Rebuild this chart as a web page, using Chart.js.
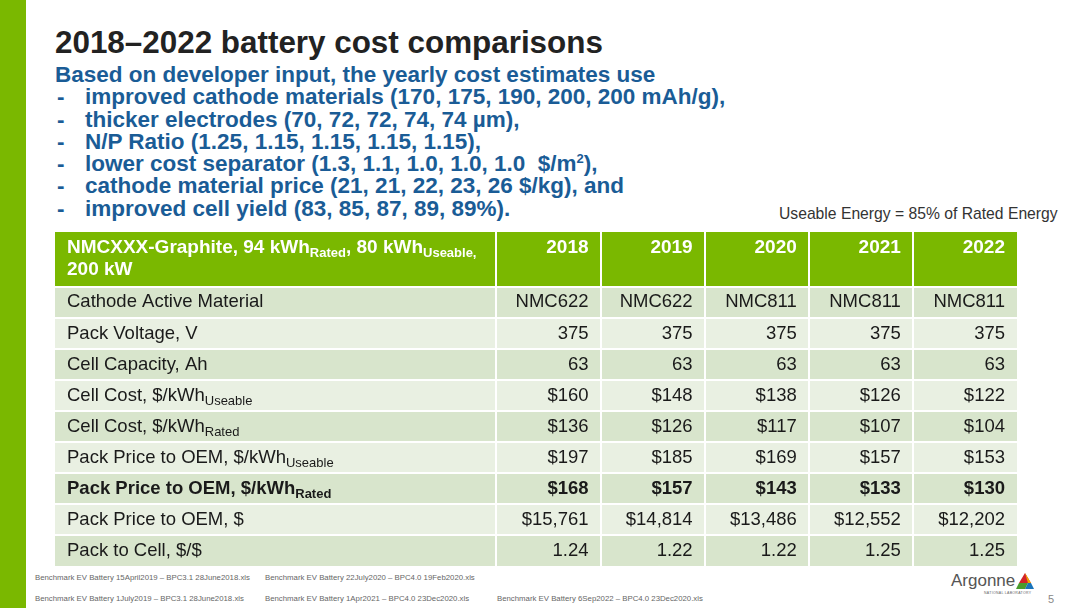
<!DOCTYPE html>
<html>
<head>
<meta charset="utf-8">
<script src="https://cdn.jsdelivr.net/npm/chart.js@4.4.1/dist/chart.umd.min.js"></script>
<style>
  body { margin: 0; width: 1080px; height: 608px; position: relative; background: #fff;
         font-family: "Liberation Sans", Arial, sans-serif; overflow: hidden; }
  #greenbar { position: absolute; left: 0; top: 0; width: 26px; height: 608px; background: #7ab800; }
  #title { position: absolute; left: 55px; top: 25px; font-size: 31.4px; font-weight: bold; color: #222; white-space: nowrap; }
  #intro { position: absolute; left: 55px; top: 64px; font-size: 22.5px; font-weight: bold; color: #1a5c96;
           line-height: 22.3px; white-space: nowrap; }
  #intro .b { position: relative; padding-left: 30px; }
  #intro .b:before { content: "-"; position: absolute; left: 2px; top: 0; }
  #useable { position: absolute; left: 779px; top: 205px; font-size: 15.7px; color: #333; white-space: nowrap; }
  #tableWrap { position: absolute; left: 55px; top: 232px; width: 962px; height: 334px; }
  .foot { position: absolute; font-size: 7.8px; color: #666; white-space: nowrap; }
  #logo { position: absolute; left: 951px; top: 571px; font-size: 17px; color: #555; white-space: nowrap; }
  #logo small { position: absolute; left: 33px; top: 20px; font-size: 3.5px; letter-spacing: 0.3px; color: #666; }
  #logo svg { position: absolute; left: 64px; top: 1px; }
  #page { position: absolute; left: 1048px; top: 593px; font-size: 11px; color: #888; }
</style>
</head>
<body>
<div id="greenbar"></div>
<div id="title">2018–2022 battery cost comparisons</div>
<div id="intro">
  <div>Based on developer input, the yearly cost estimates use</div>
  <div class="b">improved cathode materials (170, 175, 190, 200, 200 mAh/g),</div>
  <div class="b">thicker electrodes (70, 72, 72, 74, 74 µm),</div>
  <div class="b">N/P Ratio (1.25, 1.15, 1.15, 1.15, 1.15),</div>
  <div class="b">lower cost separator (1.3, 1.1, 1.0, 1.0, 1.0 &nbsp;$/m<sup style="font-size:13px;line-height:0">2</sup>),</div>
  <div class="b">cathode material price (21, 21, 22, 23, 26 $/kg), and</div>
  <div class="b">improved cell yield (83, 85, 87, 89, 89%).</div>
</div>
<div id="useable">Useable Energy = 85% of Rated Energy</div>
<div id="tableWrap"><canvas id="tableCanvas"></canvas></div>

<div class="foot" style="left:35px;top:573px">Benchmark EV Battery 15April2019 – BPC3.1 28June2018.xls</div>
<div class="foot" style="left:265px;top:573px">Benchmark EV Battery 22July2020 – BPC4.0 19Feb2020.xls</div>
<div class="foot" style="left:35px;top:594px">Benchmark EV Battery 1July2019 – BPC3.1 28June2018.xls</div>
<div class="foot" style="left:265px;top:594px">Benchmark EV Battery 1Apr2021 – BPC4.0 23Dec2020.xls</div>
<div class="foot" style="left:497px;top:594px">Benchmark EV Battery 6Sep2022 – BPC4.0 23Dec2020.xls</div>
<div id="logo">Argonne
  <svg width="20" height="18" viewBox="0 0 20 18">
    <polygon points="10,1 4,11 16,11" fill="#d2232a"/>
    <polygon points="4,11 1,17 10,17 13,11" fill="#4a9c2d"/>
    <polygon points="16,11 19,17 10,17 13,11" fill="#1b75bb"/>
    <polygon points="10,1 16,11 13,11" fill="#f2a900"/>
  </svg>
  <small>NATIONAL LABORATORY</small>
</div>
<div id="page">5</div>

<script>
// table data
var years = ['2018', '2019', '2020', '2021', '2022'];
var headerParts = [
  [{t: 'NMCXXX-Graphite, 94 kWh'}, {t: 'Rated', sub: true}, {t: ', 80 kWh'}, {t: 'Useable', sub: true}, {t: ',', sub: true}],
  [{t: '200 kW'}]
];
var rowLabels = ['Cathode Active Material', 'Pack Voltage, V', 'Cell Capacity, Ah', 'Cell Cost, $/kWh', 'Cell Cost, $/kWh',
                 'Pack Price to OEM, $/kWh', 'Pack Price to OEM, $/kWh', 'Pack Price to OEM, $', 'Pack to Cell, $/$'];
var rowSubs = ['', '', '', 'Useable', 'Rated', 'Useable', 'Rated', '', ''];

var cathodeMaterial = ['NMC622', 'NMC622', 'NMC811', 'NMC811', 'NMC811'];
var packVoltage = [375, 375, 375, 375, 375];
var cellCapacity = [63, 63, 63, 63, 63];
var cellCostUseable = [160, 148, 138, 126, 122];
var cellCostRated = [136, 126, 117, 107, 104];
var packPriceUseable = [197, 185, 169, 157, 153];
var packPriceRated = [168, 157, 143, 133, 130];
var packPrice = [15761, 14814, 13486, 12552, 12202];
var packToCell = [1.24, 1.22, 1.22, 1.25, 1.25];

function plain(v) { return String(v); }
function dollars(v) { return '$' + v.toLocaleString('en-US'); }
function twoDec(v) { return v.toFixed(2); }

var rows = [
  {values: cathodeMaterial, fmt: plain},
  {values: packVoltage, fmt: plain},
  {values: cellCapacity, fmt: plain},
  {values: cellCostUseable, fmt: dollars},
  {values: cellCostRated, fmt: dollars},
  {values: packPriceUseable, fmt: dollars},
  {values: packPriceRated, fmt: dollars, bold: true},
  {values: packPrice, fmt: dollars},
  {values: packToCell, fmt: twoDec}
];

// layout in scale units: label column is wider, header row is taller
var labelColWidth = 4.24;
var headerHeight = 1.77;
var colEdges = [0, labelColWidth];
years.forEach(function(y, i) { colEdges.push(labelColWidth + i + 1); });
var rowEdges = [0, headerHeight];
rows.forEach(function(r, i) { rowEdges.push(headerHeight + i + 1); });

var FONT = '"Liberation Sans", Arial, sans-serif';

function drawRich(ctx, parts, x, y, size, bold) {
  var w = bold ? 'bold ' : '';
  parts.forEach(function(p) {
    if (p.sub) {
      ctx.font = w + Math.round(size * 0.7) + 'px ' + FONT;
      ctx.fillText(p.t, x, y + size * 0.3);
    } else {
      ctx.font = w + size + 'px ' + FONT;
      ctx.fillText(p.t, x, y);
    }
    x += ctx.measureText(p.t).width;
  });
}

var tablePlugin = {
  id: 'tableCells',
  afterDraw: function(chart) {
    var ctx = chart.ctx;
    var x = chart.scales.x, y = chart.scales.y;
    var left = x.getPixelForValue(colEdges[0]);
    var right = x.getPixelForValue(colEdges[colEdges.length - 1]);
    ctx.save();

    // row backgrounds
    for (var r = 0; r < rowEdges.length - 1; r++) {
      var top = y.getPixelForValue(rowEdges[r]);
      var bot = y.getPixelForValue(rowEdges[r + 1]);
      ctx.fillStyle = r === 0 ? '#7ab800' : (r % 2 === 1 ? '#d8e5cc' : '#e9f0e2');
      ctx.fillRect(left, top, right - left, bot - top);
    }
    // white cell separators
    ctx.strokeStyle = '#ffffff';
    ctx.lineWidth = 2;
    for (var c = 1; c < colEdges.length - 1; c++) {
      var px = Math.round(x.getPixelForValue(colEdges[c]));
      ctx.beginPath();
      ctx.moveTo(px, y.getPixelForValue(rowEdges[0]));
      ctx.lineTo(px, y.getPixelForValue(rowEdges[rowEdges.length - 1]));
      ctx.stroke();
    }
    for (var r2 = 1; r2 < rowEdges.length - 1; r2++) {
      var py = Math.round(y.getPixelForValue(rowEdges[r2]));
      ctx.beginPath();
      ctx.moveTo(left, py);
      ctx.lineTo(right, py);
      ctx.stroke();
    }

    var pad = 12;
    var size = 18.5;
    var headSize = 19;
    // header
    var hTop = y.getPixelForValue(rowEdges[0]);
    ctx.fillStyle = '#ffffff';
    ctx.textBaseline = 'middle';
    ctx.textAlign = 'left';
    drawRich(ctx, headerParts[0], left + pad, hTop + 16, headSize, true);
    drawRich(ctx, headerParts[1], left + pad, hTop + 38, headSize, true);
    ctx.textAlign = 'right';
    ctx.font = 'bold ' + headSize + 'px ' + FONT;
    years.forEach(function(yr, i) {
      ctx.fillText(yr, x.getPixelForValue(colEdges[i + 2]) - pad, hTop + 16);
    });

    // body rows
    rows.forEach(function(row, i) {
      var cy = (y.getPixelForValue(rowEdges[i + 1]) + y.getPixelForValue(rowEdges[i + 2])) / 2;
      ctx.fillStyle = '#1a1a1a';
      ctx.textAlign = 'left';
      var parts = [{t: rowLabels[i]}];
      if (rowSubs[i]) parts.push({t: rowSubs[i], sub: true});
      drawRich(ctx, parts, left + pad, cy, size, row.bold);
      ctx.textAlign = 'right';
      ctx.font = (row.bold ? 'bold ' : '') + size + 'px ' + FONT;
      row.values.forEach(function(v, j) {
        ctx.fillText(row.fmt(v), x.getPixelForValue(colEdges[j + 2]) - pad, cy);
      });
    });
    ctx.restore();
  }
};

new Chart(document.getElementById('tableCanvas'), {
  type: 'scatter',
  data: { datasets: [] },
  options: {
    responsive: true,
    maintainAspectRatio: false,
    animation: false,
    layout: { padding: 0 },
    plugins: { legend: { display: false }, tooltip: { enabled: false } },
    scales: {
      x: { type: 'linear', min: 0, max: colEdges[colEdges.length - 1], display: false },
      y: { type: 'linear', min: 0, max: rowEdges[rowEdges.length - 1], reverse: true, display: false }
    }
  },
  plugins: [tablePlugin]
});
</script>
</body>
</html>
